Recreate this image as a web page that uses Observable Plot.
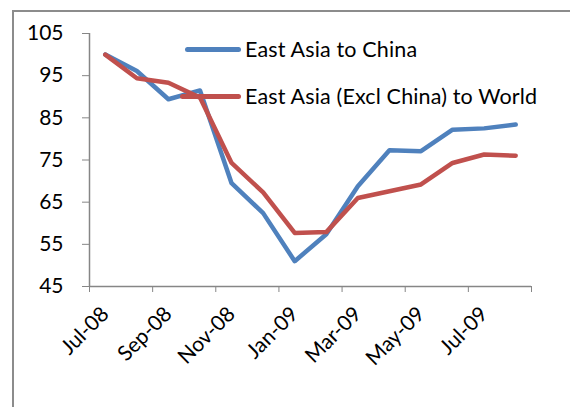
<!DOCTYPE html>
<html>
<head>
<meta charset="utf-8">
<script src="https://cdn.jsdelivr.net/npm/d3@7"></script>
<script src="https://cdn.jsdelivr.net/npm/@observablehq/plot@0.6"></script>
<style>
  html, body { margin: 0; padding: 0; background: #fff; }
  #wrap { position: relative; width: 570px; height: 407px; overflow: hidden; font-family: Lato, "Open Sans", sans-serif; }
  #frame { position: absolute; left: 12px; top: 10px; width: 600px; height: 500px; border-top: 2px solid #8c8c8c; border-left: 2px solid #8c8c8c; }
  #chart { position: absolute; left: 0; top: 0; }
  .leg { position: absolute; font-size: 21.5px; color: #000; white-space: nowrap; line-height: 22px; letter-spacing: 0.15px; }
  .leg span.sw { position: absolute; top: 9px; height: 5px; border-radius: 2.5px; }
</style>
</head>
<body>
<div id="wrap">
  <div id="frame"></div>
  <div id="chart"></div>
</div>
<script>
const months = ["Jul-08","Aug-08","Sep-08","Oct-08","Nov-08","Dec-08","Jan-09","Feb-09","Mar-09","Apr-09","May-09","Jun-09","Jul-09","Aug-09"];
const chinaSeries = [100, 96.1, 89.4, 91.5, 69.5, 62.4, 51.0, 57.4, 68.8, 77.3, 77.1, 82.2, 82.5, 83.4];
const worldSeries = [100, 94.4, 93.3, 89.8, 74.3, 67.3, 57.7, 57.9, 66.0, 67.6, 69.2, 74.3, 76.3, 76.0];
const seriesNames = ["East Asia to China", "East Asia (Excl China) to World"];
const seriesColors = ["#4F81BD", "#C0504D"];
const yTicks = [45, 55, 65, 75, 85, 95, 105];

const rows = [];
months.forEach((m, i) => {
  rows.push({i, month: m, value: chinaSeries[i], series: seriesNames[0]});
  rows.push({i, month: m, value: worldSeries[i], series: seriesNames[1]});
});
const labelIdx = months.map((m, i) => i).filter(i => i % 2 === 0);
const boundaries = d3.range(0, months.length + 1, 2).map(b => b - 0.5);
const axisColor = "#868686";

const plot = Plot.plot({
  width: 570,
  height: 407,
  marginLeft: 89,
  marginRight: 39,
  marginTop: 33,
  marginBottom: 121,
  style: {fontFamily: "Lato, 'Open Sans', sans-serif", fontSize: "21px", color: "#000", background: "transparent"},
  x: {domain: [-0.5, months.length - 0.5], axis: null, label: null},
  y: {domain: [45, 105], axis: null, label: null},
  color: {domain: seriesNames, range: seriesColors},
  marks: [
    Plot.axisY({ticks: yTicks, tickSize: 7, tickPadding: 19, stroke: axisColor, fill: "#000", fontSize: 21, label: null}),
    Plot.axisX({ticks: boundaries, tickSize: 6, tickFormat: () => "", stroke: axisColor, label: null}),
    Plot.axisX({ticks: labelIdx, tickSize: 0, tickPadding: 24, tickRotate: -45, tickFormat: i => months[i], fill: "#000", fontSize: 21, label: null}),
    Plot.ruleX([-0.5], {stroke: axisColor, strokeWidth: 1.5}),
    Plot.ruleY([45], {stroke: axisColor, strokeWidth: 1.5}),
    Plot.line(rows, {x: "i", y: "value", z: "series", stroke: "series", strokeWidth: 4.5, strokeLinejoin: "round", strokeLinecap: "round"})
  ]
});
document.getElementById("chart").appendChild(plot);

// legend (inside plot area)
const legPos = [{left: 185, top: 38}, {left: 180, top: 85}];
seriesNames.forEach((name, k) => {
  const d = document.createElement("div");
  d.className = "leg";
  d.style.left = "245px";
  d.style.top = legPos[k].top + "px";
  d.textContent = name;
  const sw = document.createElement("span");
  sw.className = "sw";
  sw.style.background = seriesColors[k];
  sw.style.left = (legPos[k].left - 245) + "px";
  sw.style.width = (241 - legPos[k].left) + "px";
  d.appendChild(sw);
  document.getElementById("wrap").appendChild(d);
});
</script>
</body>
</html>
